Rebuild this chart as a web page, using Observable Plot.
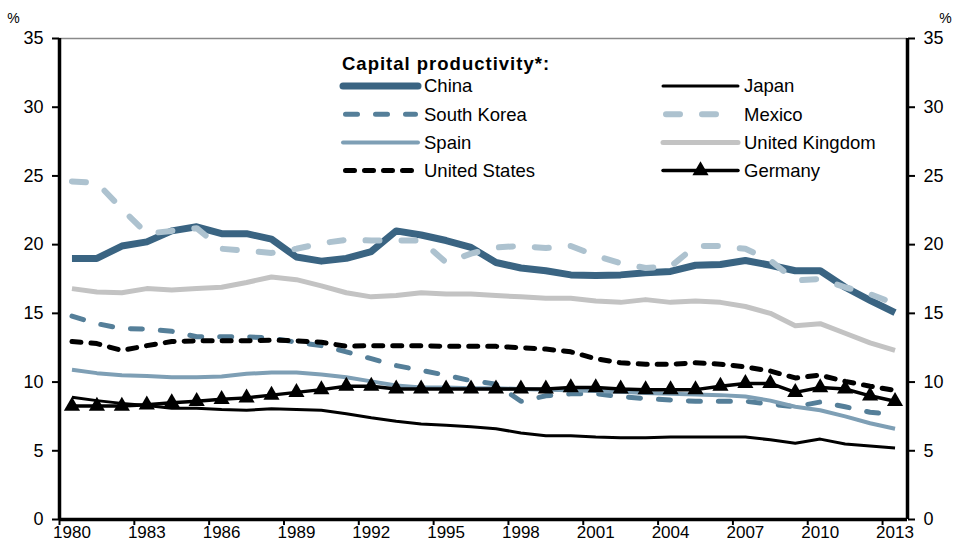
<!DOCTYPE html>
<html><head><meta charset="utf-8">
<script src="https://cdn.jsdelivr.net/npm/d3@7"></script>
<script src="https://cdn.jsdelivr.net/npm/@observablehq/plot@0.6"></script>
<style>
body{margin:0;background:#fff;}
#chart{position:relative;width:956px;height:542px;}
</style></head><body><div id="chart"></div>
<script>
const years = [1980,1981,1982,1983,1984,1985,1986,1987,1988,1989,1990,1991,1992,1993,1994,1995,1996,1997,1998,1999,2000,2001,2002,2003,2004,2005,2006,2007,2008,2009,2010,2011,2012,2013];
const china = [19.0,19.0,19.9,20.2,21.0,21.3,20.8,20.8,20.4,19.1,18.8,19.0,19.5,21.0,20.7,20.3,19.8,18.7,18.3,18.1,17.8,17.75,17.8,17.95,18.05,18.5,18.55,18.85,18.5,18.1,18.1,16.9,15.95,15.05];
const japan = [8.9,8.65,8.45,8.3,8.1,8.1,8.0,7.95,8.05,8.0,7.95,7.7,7.4,7.15,6.95,6.85,6.75,6.6,6.3,6.1,6.1,6.0,5.95,5.95,6.0,6.0,6.0,6.0,5.8,5.55,5.85,5.5,5.35,5.2];
const southKorea = [14.8,14.25,13.9,13.85,13.7,13.3,13.3,13.3,13.2,12.9,12.65,12.2,11.7,11.2,10.85,10.5,10.1,9.85,8.6,9.0,9.15,9.15,8.95,8.8,8.7,8.6,8.6,8.6,8.4,8.2,8.55,8.2,7.8,7.65];
const mexico = [24.6,24.5,22.6,20.8,21.0,21.2,19.7,19.55,19.4,19.7,20.1,20.35,20.3,20.3,20.3,18.7,19.35,19.8,19.9,19.75,19.9,19.2,18.65,18.3,18.4,19.9,19.9,19.7,18.85,17.4,17.5,16.9,16.4,15.7];
const spain = [10.9,10.65,10.5,10.45,10.35,10.35,10.4,10.6,10.7,10.7,10.55,10.35,10.05,9.75,9.6,9.6,9.55,9.55,9.5,9.45,9.4,9.35,9.3,9.2,9.15,9.1,9.05,8.95,8.65,8.2,7.95,7.5,7.0,6.6];
const unitedKingdom = [16.8,16.55,16.5,16.8,16.7,16.8,16.9,17.25,17.65,17.45,17.0,16.5,16.2,16.3,16.5,16.4,16.4,16.3,16.2,16.1,16.1,15.9,15.8,16.0,15.8,15.9,15.8,15.5,15.0,14.1,14.25,13.55,12.85,12.3];
const unitedStates = [12.95,12.8,12.3,12.65,12.95,13.0,13.0,13.0,13.05,13.0,12.9,12.6,12.65,12.65,12.65,12.6,12.6,12.6,12.5,12.4,12.2,11.7,11.4,11.3,11.3,11.4,11.3,11.1,10.8,10.3,10.5,10.05,9.7,9.4];
const germany = [8.25,8.25,8.25,8.35,8.5,8.6,8.75,8.85,9.05,9.25,9.45,9.7,9.7,9.5,9.5,9.5,9.5,9.5,9.5,9.5,9.6,9.6,9.5,9.45,9.45,9.45,9.7,9.9,9.9,9.25,9.6,9.5,9.0,8.6];

const xTicks = [1980,1983,1986,1989,1992,1995,1998,2001,2004,2007,2010,2013];
const yTicks = [0,5,10,15,20,25,30,35];
const legendTitle = "Capital productivity*:";

const FONT = "'Liberation Sans', Arial, Helvetica, sans-serif";

const series = [
  {name:"China", values:china, stroke:"#3a6482", width:7, dash:null},
  {name:"Japan", values:japan, stroke:"#000000", width:3, dash:null},
  {name:"South Korea", values:southKorea, stroke:"#557f99", width:5, dash:"12,18"},
  {name:"Mexico", values:mexico, stroke:"#adc2cf", width:6, dash:"14,22"},
  {name:"Spain", values:spain, stroke:"#7e9fb5", width:4, dash:null},
  {name:"United Kingdom", values:unitedKingdom, stroke:"#c3c3c3", width:5, dash:null},
  {name:"United States", values:unitedStates, stroke:"#000000", width:5, dash:"9,10"},
  {name:"Germany", values:germany, stroke:"#000000", width:3.5, dash:null, marker:true}
];

const rows = s => years.map((y,i) => ({x: y + 0.5, v: s.values[i], name: s.name}));

const marks = [
  Plot.ruleY([35], {stroke:"#8a8a8a", strokeWidth:1.5}),
];
for (const s of series) {
  marks.push(Plot.line(rows(s), {
    x:"x", y:"v", stroke:s.stroke, strokeWidth:s.width,
    strokeDasharray:s.dash || undefined,
    strokeLinecap: s.dash ? "round" : "butt",
    strokeLinejoin:"round"
  }));
  if (s.marker) {
    marks.push(Plot.dot(rows(s), {x:"x", y:"v", symbol:"triangle", r:6, fill:"#000", stroke:"none"}));
  }
}
marks.push(
  Plot.axisY({anchor:"left", ticks:yTicks, tickSize:7, tickPadding:9, strokeWidth:2, label:null, fontSize:18}),
  Plot.axisY({anchor:"right", ticks:yTicks, tickSize:7, tickPadding:9, strokeWidth:2, label:null, fontSize:18}),
  Plot.axisX({ticks:xTicks, tickSize:6, strokeWidth:2, tickFormat:() => "", label:null}),
  Plot.text(xTicks, {x: d => d + 0.5, frameAnchor:"bottom", dy:13, lineAnchor:"middle", text: d => String(d), fontSize:17}),
  Plot.ruleX([1980], {strokeWidth:3.5}),
  Plot.ruleX([2014], {strokeWidth:3.5}),
  Plot.ruleY([0], {strokeWidth:3.5}),
  Plot.text(["%"], {frameAnchor:"top-left", textAnchor:"middle", lineAnchor:"middle", dx:-46, dy:-20, fontSize:14}),
  Plot.text(["%"], {frameAnchor:"top-right", textAnchor:"middle", lineAnchor:"middle", dx:38, dy:-20, fontSize:14})
);

const chart = Plot.plot({
  width:956, height:542,
  marginLeft:59, marginRight:49, marginTop:38, marginBottom:23,
  x:{domain:[1980,2014], axis:null},
  y:{domain:[0,35], axis:null},
  style:{fontFamily:FONT, fontSize:"18px", color:"#000", background:"#fff"},
  marks
});
document.getElementById("chart").appendChild(chart);

// legend (layout only)
const svg = d3.select(chart);
const g = svg.append("g").attr("font-family", FONT).attr("text-anchor","start");
g.append("text").attr("x",342).attr("y",64).attr("dy","0.35em").attr("text-anchor","start")
  .attr("font-weight","bold").attr("font-size",18.5).attr("letter-spacing","1px").text(legendTitle);
series.forEach((s,i) => {
  const col = i % 2, row = Math.floor(i/2);
  const x0 = col ? 663 : 343, y = 86 + row*28.2;
  g.append("line").attr("x1", x0 + (s.dash ? s.width/2 : 0)).attr("x2", x0 + 75 - (s.dash ? s.width/2 : 0))
    .attr("y1", y).attr("y2", y)
    .attr("stroke", s.stroke).attr("stroke-width", s.width)
    .attr("stroke-dasharray", s.dash)
    .attr("stroke-linecap", "round");
  if (s.marker) {
    g.append("path").attr("d", d3.symbol(d3.symbolTriangle, Math.PI*36)()).attr("transform", `translate(${x0+37.5},${y})`).attr("fill","#000");
  }
  g.append("text").attr("x", x0 + 81).attr("y", y).attr("dy","0.35em").attr("text-anchor","start")
    .attr("font-size",18.5).text(s.name);
});
</script></body></html>
